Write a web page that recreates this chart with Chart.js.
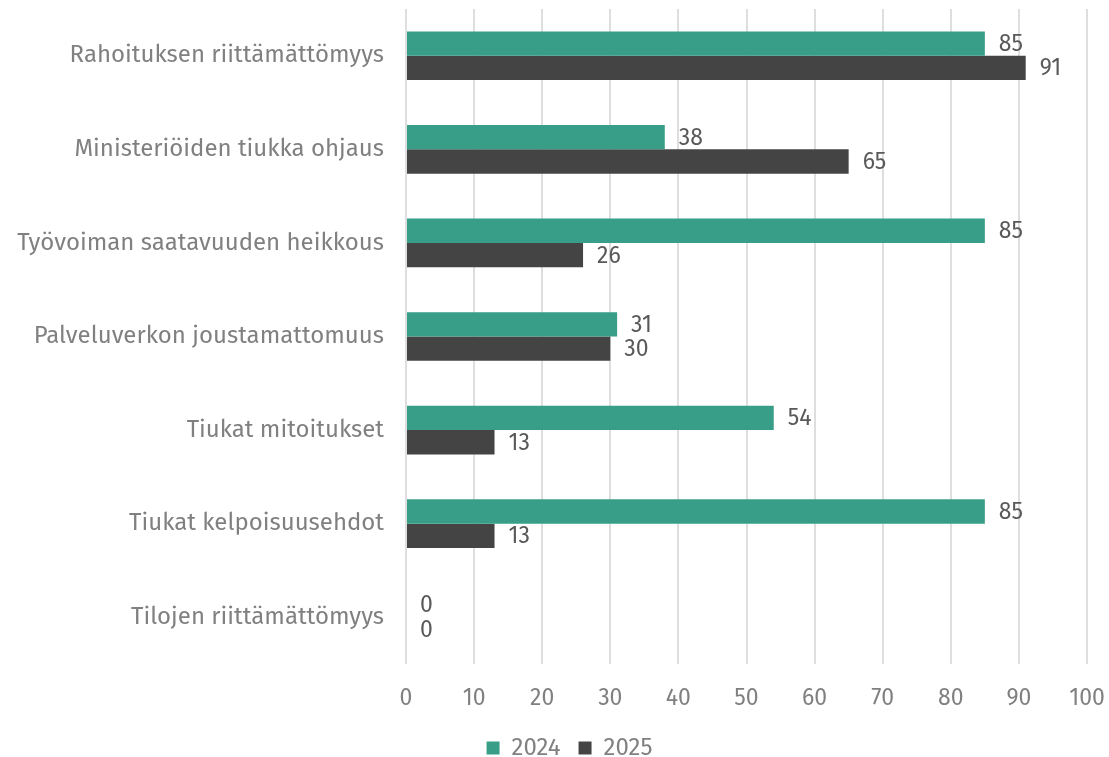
<!DOCTYPE html>
<html>
<head>
<meta charset="utf-8">
<script src="https://cdn.jsdelivr.net/npm/chart.js@4"></script>
<style>
  html, body { margin: 0; padding: 0; background: #ffffff; }
  #wrap { width: 1109px; height: 757px; position: relative; }
</style>
</head>
<body>
<div id="wrap"><canvas id="c"></canvas></div>
<script>
const categories = [
  "Rahoituksen riittämättömyys",
  "Ministeriöiden tiukka ohjaus",
  "Työvoiman saatavuuden heikkous",
  "Palveluverkon joustamattomuus",
  "Tiukat mitoitukset",
  "Tiukat kelpoisuusehdot",
  "Tilojen riittämättömyys"
];
const series2024 = [85, 38, 85, 31, 54, 85, 0];
const series2025 = [91, 65, 26, 30, 13, 13, 0];
const seriesNames = ["2024", "2025"];
const xTicks = [0, 10, 20, 30, 40, 50, 60, 70, 80, 90, 100];

const FONT = '"Fira Sans", "Noto Sans", sans-serif';

const valueLabels = {
  id: 'valueLabels',
  afterDatasetsDraw(chart) {
    const ctx = chart.ctx;
    ctx.save();
    ctx.font = '23px ' + FONT;
    ctx.fillStyle = '#595959';
    ctx.textAlign = 'left';
    ctx.textBaseline = 'middle';
    chart.data.datasets.forEach((ds, i) => {
      const meta = chart.getDatasetMeta(i);
      meta.data.forEach((bar, j) => {
        ctx.fillText(String(ds.data[j]), bar.x + 14, bar.y + 1);
      });
    });
    ctx.restore();
  }
};

const legendShift = {
  id: 'legendShift',
  afterLayout(chart) {
    if (chart.legend) {
      chart.legend.left += 26;
      chart.legend.right += 26;
    }
  }
};

new Chart(document.getElementById('c'), {
  type: 'bar',
  data: {
    labels: categories,
    datasets: [
      { label: seriesNames[0], data: series2024, backgroundColor: '#389e87', categoryPercentage: 0.52, barPercentage: 1 },
      { label: seriesNames[1], data: series2025, backgroundColor: '#444444', categoryPercentage: 0.52, barPercentage: 1 }
    ]
  },
  options: {
    indexAxis: 'y',
    responsive: true,
    maintainAspectRatio: false,
    animation: false,
    layout: { padding: { top: 9, right: 22, left: 0, bottom: -13 } },
    scales: {
      x: {
        min: 0, max: 100,
        afterBuildTicks(scale) { scale.ticks = xTicks.map(v => ({ value: v })); },
        grid: { color: '#dedede', lineWidth: 2, drawTicks: false },
        border: { display: false },
        ticks: { color: '#808080', font: { family: FONT, size: 23 }, padding: 21 },
        afterFit(scale) {
          scale.height = 54;
          scale.paddingLeft = 0;
          scale.paddingRight = 0;
        }
      },
      y: {
        grid: { display: false },
        border: { display: false },
        ticks: { color: '#808080', font: { family: FONT, size: 24 }, padding: 14 },
        afterFit(scale) {
          scale.width = 406;
          scale.paddingTop = 0;
          scale.paddingBottom = 0;
        }
      }
    },
    plugins: {
      legend: {
        position: 'bottom',
        labels: {
          color: '#808080',
          font: { family: FONT, size: 24 },
          boxWidth: 13, boxHeight: 13,
          padding: 18
        }
      },
      tooltip: { enabled: false }
    }
  },
  plugins: [valueLabels, legendShift]
});
</script>
</body>
</html>
